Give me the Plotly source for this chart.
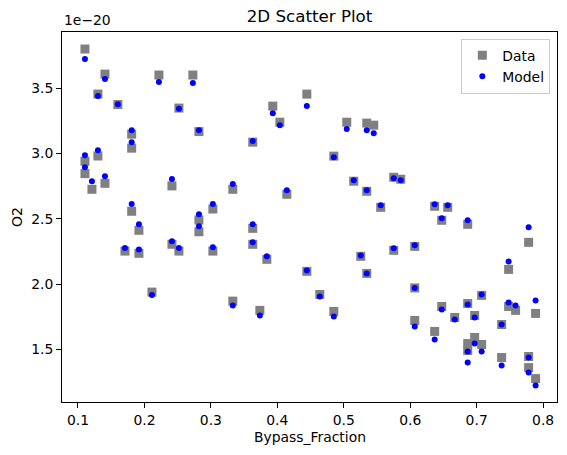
import numpy as np
import plotly.graph_objects as go

# Bypass fraction (x) and O2 values (in units of 1e-20)
bypass_fraction = [
    0.1105, 0.1406, 0.2218, 0.2729, 0.130, 0.160, 0.2519, 0.282, 0.1808, 0.1808,
    0.1105, 0.130, 0.1105, 0.121, 0.1406, 0.2414, 0.333, 0.1808, 0.303, 0.282,
    0.282, 0.1917, 0.1707, 0.1917, 0.2414, 0.2519, 0.303, 0.2113, 0.333, 0.363,
    0.4444, 0.3932, 0.4038, 0.5045, 0.5346, 0.5451, 0.363, 0.485, 0.5752, 0.5857,
    0.515, 0.4143, 0.5346, 0.5556, 0.363, 0.3842, 0.4444, 0.5256, 0.5752, 0.5346,
    0.4639, 0.3737, 0.485, 0.6368, 0.6564, 0.6474, 0.6865, 0.7782, 0.7481, 0.6068,
    0.6068, 0.6068, 0.6368, 0.6474, 0.667, 0.6865, 0.7075, 0.697, 0.697, 0.6865,
    0.6865, 0.7075, 0.7376, 0.7376, 0.7481, 0.7586, 0.7887, 0.7782, 0.7782, 0.7887,
]
o2_data = [
    3.799, 3.607, 3.600, 3.600, 3.454, 3.374, 3.347, 3.167, 3.147, 3.040,
    2.940, 2.980, 2.845, 2.725, 2.771, 2.751, 2.725, 2.557, 2.574, 2.490,
    2.400, 2.411, 2.252, 2.235, 2.304, 2.252, 2.252, 1.938, 1.869, 2.426,
    3.454, 3.362, 3.239, 3.239, 3.232, 3.216, 3.086, 2.979, 2.817, 2.802,
    2.787, 2.687, 2.710, 2.587, 2.304, 2.189, 2.097, 2.212, 2.258, 2.081,
    1.920, 1.798, 1.790, 2.595, 2.587, 2.488, 2.457, 2.319, 2.112, 2.288,
    1.970, 1.721, 1.637, 1.828, 1.744, 1.851, 1.913, 1.759, 1.591, 1.544,
    1.491, 1.537, 1.690, 1.437, 1.828, 1.798, 1.775, 1.445, 1.360, 1.276,
]
o2_model = [
    3.722, 3.569, 3.546, 3.538, 3.439, 3.377, 3.341, 3.178, 3.178, 3.086,
    2.986, 3.025, 2.894, 2.787, 2.825, 2.804, 2.766, 2.613, 2.613, 2.535,
    2.443, 2.457, 2.275, 2.265, 2.327, 2.275, 2.281, 1.915, 1.836, 2.457,
    3.362, 3.308, 3.216, 3.186, 3.178, 3.155, 3.094, 2.971, 2.810, 2.794,
    2.794, 2.718, 2.718, 2.603, 2.319, 2.212, 2.104, 2.219, 2.273, 2.081,
    1.905, 1.759, 1.752, 2.610, 2.603, 2.503, 2.488, 2.434, 2.173, 2.296,
    1.970, 1.675, 1.575, 1.805, 1.729, 1.844, 1.920, 1.744, 1.544, 1.483,
    1.399, 1.483, 1.690, 1.377, 1.859, 1.836, 1.874, 1.437, 1.322, 1.222,
]
SCALE = 1e-20

x_ticks = [0.1, 0.2, 0.3, 0.4, 0.5, 0.6, 0.7, 0.8]
y_ticks = [1.5, 2.0, 2.5, 3.0, 3.5]

x = np.array(bypass_fraction)
yd = np.array(o2_data) * SCALE
ym = np.array(o2_model) * SCALE

FONT = "DejaVu Sans"
FS = 13.9
W, H = 567, 455
ML, MR, MT, MB = 62, 10, 32, 53

fig = go.Figure()
fig.add_trace(go.Scatter(
    x=x, y=yd, mode="markers", name="Data",
    marker=dict(symbol="square", size=9, color="#808080", line=dict(width=0)),
))
fig.add_trace(go.Scatter(
    x=x, y=ym, mode="markers", name="Model",
    marker=dict(symbol="circle", size=6, color="#0000ff", line=dict(width=0)),
))

axis_common = dict(
    showgrid=False, zeroline=False, showline=True, linecolor="black", linewidth=1,
    mirror=True, ticks="outside", ticklen=5, tickwidth=1, tickcolor="black",
    automargin=False,
    tickfont=dict(family=FONT, size=FS, color="black"),
)

pw = W - ML - MR
ph = H - MT - MB

fig.update_layout(
    width=W, height=H,
    margin=dict(l=ML, r=MR, t=MT, b=MB, autoexpand=False),
    paper_bgcolor="white", plot_bgcolor="white",
    font=dict(family=FONT, color="black"),
    title=dict(text="2D Scatter Plot", x=(ML + pw / 2) / W, xanchor="center",
               y=1 - 16 / H, yanchor="middle",
               font=dict(family=FONT, size=16.7, color="black")),
    xaxis=dict(range=[0.07594, 0.8209], tickvals=x_ticks,
               ticktext=[f"{v:.1f}" for v in x_ticks], **axis_common),
    yaxis=dict(range=[1.0966 * SCALE, 3.9294 * SCALE],
               tickvals=[v * SCALE for v in y_ticks],
               ticktext=[f"{v:.1f}" for v in y_ticks], **axis_common),
    legend=dict(x=0.9865, y=0.982, xanchor="right", yanchor="top",
                bgcolor="rgba(255,255,255,0.8)", bordercolor="#cccccc", borderwidth=1,
                font=dict(family=FONT, size=FS, color="black"),
                itemsizing="trace", tracegroupgap=2),
    showlegend=True,
    hovermode=False,
    annotations=[
        dict(text="1e\u221220", xref="paper", yref="paper", x=0, y=1,
             xanchor="left", yanchor="bottom", yshift=2, showarrow=False,
             font=dict(family=FONT, size=FS, color="black")),
        dict(text="Bypass_Fraction", xref="paper", yref="paper", x=0.5, y=0,
             xanchor="center", yanchor="middle", yshift=-(437 - (H - MB)),
             showarrow=False, font=dict(family=FONT, size=FS, color="black")),
        dict(text="O2", xref="paper", yref="paper", x=0, y=0.5, textangle=-90,
             xanchor="center", yanchor="middle", xshift=-(ML - 17),
             showarrow=False, font=dict(family=FONT, size=FS, color="black")),
    ],
)

fig.write_html(
    "out.html",
    config={"displayModeBar": False, "staticPlot": True},
    post_script="document.body.style.margin='0';document.body.style.padding='0';"
                "document.body.style.overflow='hidden';"
                "document.documentElement.style.overflow='hidden';",
)
